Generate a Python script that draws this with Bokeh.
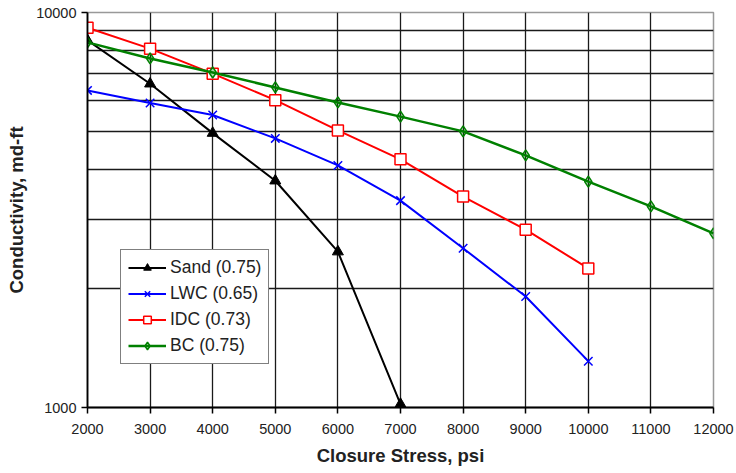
from bokeh.plotting import figure
from bokeh.models import FixedTicker, Range1d, Legend, LegendItem
from bokeh.embed import file_html
from bokeh.resources import INLINE

stress = [2000, 3000, 4000, 5000, 6000, 7000, 8000, 9000, 10000, 11000, 12000]
sand_x = [2000, 3000, 4000, 5000, 6000, 7000]
sand_y = [8500, 6600, 4950, 3750, 2480, 1020]
lwc_x = [2000, 3000, 4000, 5000, 6000, 7000, 8000, 9000, 10000]
lwc_y = [6350, 5900, 5500, 4800, 4100, 3340, 2530, 1910, 1310]
idc_x = [2000, 3000, 4000, 5000, 6000, 7000, 8000, 9000, 10000]
idc_y = [9150, 8100, 7000, 6000, 5030, 4250, 3420, 2820, 2250]
bc_x = stress
bc_y = [8400, 7650, 7050, 6460, 5920, 5450, 5000, 4350, 3730, 3230, 2760]
names = ["Sand (0.75)", "LWC (0.65)", "IDC (0.73)", "BC (0.75)"]
y_major = [1000, 10000]
y_minor = [2000, 3000, 4000, 5000, 6000, 7000, 8000, 9000]

FONT = "Liberation Sans"

p = figure(frame_width=626, frame_height=395, y_axis_type="log",
           x_range=Range1d(2000, 12000), y_range=Range1d(1000, 10000),
           output_backend="svg", toolbar_location=None,
           min_border_left=87, min_border_right=23, min_border_top=12, min_border_bottom=66)
p.background_fill_color = "white"
p.border_fill_color = "white"
p.outline_line_color = "#999999"
p.outline_line_width = 1.5

p.xaxis.ticker = FixedTicker(ticks=stress)
p.yaxis.ticker = FixedTicker(ticks=y_major, minor_ticks=y_minor)
p.xgrid.ticker = FixedTicker(ticks=stress[1:-1])
p.ygrid.ticker = FixedTicker(ticks=y_minor)
for g in (p.xgrid, p.ygrid):
    g.grid_line_color = "#1a1a1a"
    g.grid_line_width = 1.3
    g.grid_line_alpha = 1.0

for ax in (p.xaxis, p.yaxis):
    ax.axis_line_color = "black"
    ax.axis_line_width = 1.8
    ax.major_tick_line_color = "black"
    ax.major_tick_line_width = 1.5
    ax.major_tick_in = 0
    ax.major_tick_out = 6
    ax.minor_tick_line_color = None
    ax.major_label_text_font = FONT
    ax.major_label_text_font_size = "14.5px"
    ax.major_label_text_color = "#222222"
    ax.axis_label_text_font = FONT
    ax.axis_label_text_font_style = "bold"
    ax.axis_label_text_font_size = "18.5px"
    ax.axis_label_text_color = "#222222"

p.xaxis.axis_label = "Closure Stress, psi"
p.yaxis.axis_label = "Conductivity, md-ft"
p.xaxis.major_label_standoff = 10
p.xaxis.axis_label_standoff = 8
p.yaxis.major_label_standoff = 5
p.yaxis.axis_label_standoff = 6
p.yaxis.major_label_overrides = {1000: "1000", 10000: "10000"}

r1 = p.line(sand_x, sand_y, line_color="black", line_width=2)
m1 = p.scatter(sand_x, sand_y, marker="triangle", size=11, color="black")
r2 = p.line(lwc_x, lwc_y, line_color="#0000FF", line_width=2)
m2 = p.scatter(lwc_x, lwc_y, marker="x", size=12, line_color="#0000FF", line_width=1.5)
r3 = p.line(idc_x, idc_y, line_color="#FF0000", line_width=2)
m3 = p.scatter(idc_x, idc_y, marker="square", size=11, line_color="#FF0000", fill_color="white", line_width=1.5)
r4 = p.line(bc_x, bc_y, line_color="#008000", line_width=2.5)
m4 = p.scatter(bc_x, bc_y, marker="diamond", size=11, line_color="#008000", fill_color="#008000", fill_alpha=0.3, line_width=1.5)

legend = Legend(items=[LegendItem(label=names[0], renderers=[r1, m1]),
                       LegendItem(label=names[1], renderers=[r2, m2]),
                       LegendItem(label=names[2], renderers=[r3, m3]),
                       LegendItem(label=names[3], renderers=[r4, m4])],
                location=(33, 43))
legend.border_line_color = "black"
legend.border_line_width = 1.5
legend.background_fill_color = "white"
legend.background_fill_alpha = 1.0
legend.label_text_font = FONT
legend.label_text_font_size = "17.5px"
legend.label_text_color = "#222222"
legend.glyph_width = 38
legend.glyph_height = 19
legend.label_height = 19
legend.label_standoff = 4
legend.spacing = 5
legend.padding = 7
legend.margin = 0
p.add_layout(legend, "center")

open("out.html", "w").write(file_html(p, INLINE))
